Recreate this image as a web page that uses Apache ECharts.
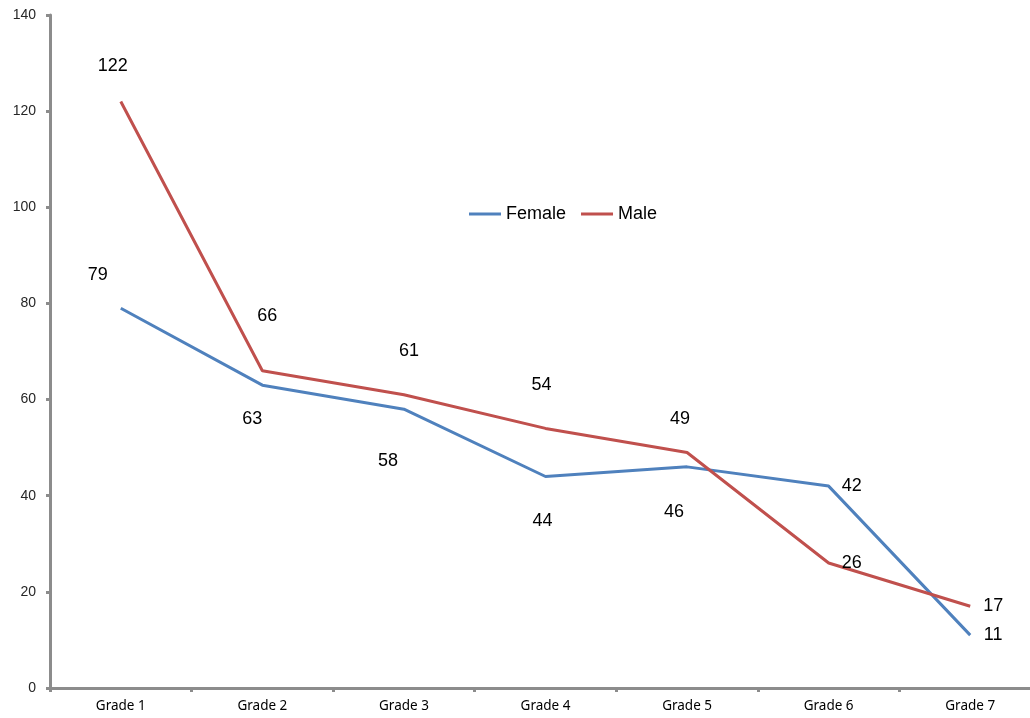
<!DOCTYPE html>
<html>
<head>
<meta charset="utf-8">
<script src="https://cdn.jsdelivr.net/npm/echarts@6/dist/echarts.min.js"></script>
<style>
  html, body { margin: 0; padding: 0; background: #ffffff; overflow: hidden; width: 1030px; height: 718px; }
  /* the plot runs slightly past the right edge of the window, as the last band is cut off */
  #chart { width: 1045px; height: 718px; }
</style>
</head>
<body>
<div id="chart"></div>
<script>
// Enrolment by grade, split by gender
const categories = ['Grade 1', 'Grade 2', 'Grade 3', 'Grade 4', 'Grade 5', 'Grade 6', 'Grade 7'];
const femaleValues = [79, 63, 58, 44, 46, 42, 11];
const maleValues = [122, 66, 61, 54, 49, 26, 17];

// Pixel offsets of each value label relative to its point
const femaleLabelOffsets = [[-23, -33], [-10, 34], [-16, 52], [-3, 45], [-13, 45], [23, 0], [23, 0]];
const maleLabelOffsets = [[-8, -35], [5, -55], [5, -44], [-4, -43], [-7, -33], [23, 0], [23, 0]];

const femaleColor = '#4F81BD';
const maleColor = '#C0504D';
const axisGray = '#8c8c8c';

function withLabels(values, offsets) {
  return values.map((v, i) => ({
    value: v,
    label: { offset: offsets[i] }
  }));
}

function lineSeries(name, color, values, offsets) {
  return {
    name: name,
    type: 'line',
    color: color,
    data: withLabels(values, offsets),
    symbol: 'circle',
    symbolSize: 1,
    showSymbol: true,
    itemStyle: { color: 'rgba(0,0,0,0)', borderWidth: 0 },
    lineStyle: { color: color, width: 3 },
    label: {
      show: true,
      position: 'inside',
      fontFamily: 'Liberation Sans',
      fontSize: 18,
      color: '#000000'
    }
  };
}

const chart = echarts.init(document.getElementById('chart'), null, { renderer: 'canvas' });
chart.setOption({
  animation: false,
  backgroundColor: '#ffffff',
  grid: { left: 50, top: 15, width: 991, height: 673, containLabel: false },
  legend: {
    data: [
      { name: 'Female', itemStyle: { color: femaleColor } },
      { name: 'Male', itemStyle: { color: maleColor } }
    ],
    left: 464,
    top: 200,
    icon: 'rect',
    itemWidth: 32,
    itemHeight: 3,
    itemGap: 15,
    textStyle: { fontFamily: 'Liberation Sans', fontSize: 18, color: '#000000' }
  },
  xAxis: {
    type: 'category',
    data: categories,
    boundaryGap: true,
    axisLine: { lineStyle: { color: axisGray, width: 3 } },
    axisTick: { show: true, length: 4, lineStyle: { color: axisGray, width: 3 } },
    axisLabel: { fontFamily: 'Noto Sans', fontSize: 13.5, color: '#000000', margin: 11 },
    splitLine: { show: false }
  },
  yAxis: {
    type: 'value',
    min: 0,
    max: 140,
    interval: 20,
    axisLine: { show: true, lineStyle: { color: axisGray, width: 3 } },
    axisTick: { show: true, length: 4, lineStyle: { color: axisGray, width: 3 } },
    axisLabel: { fontFamily: 'Liberation Sans', fontSize: 14, color: '#262626', margin: 14 },
    splitLine: { show: false }
  },
  series: [
    lineSeries('Female', femaleColor, femaleValues, femaleLabelOffsets),
    lineSeries('Male', maleColor, maleValues, maleLabelOffsets)
  ]
});
</script>
</body>
</html>
